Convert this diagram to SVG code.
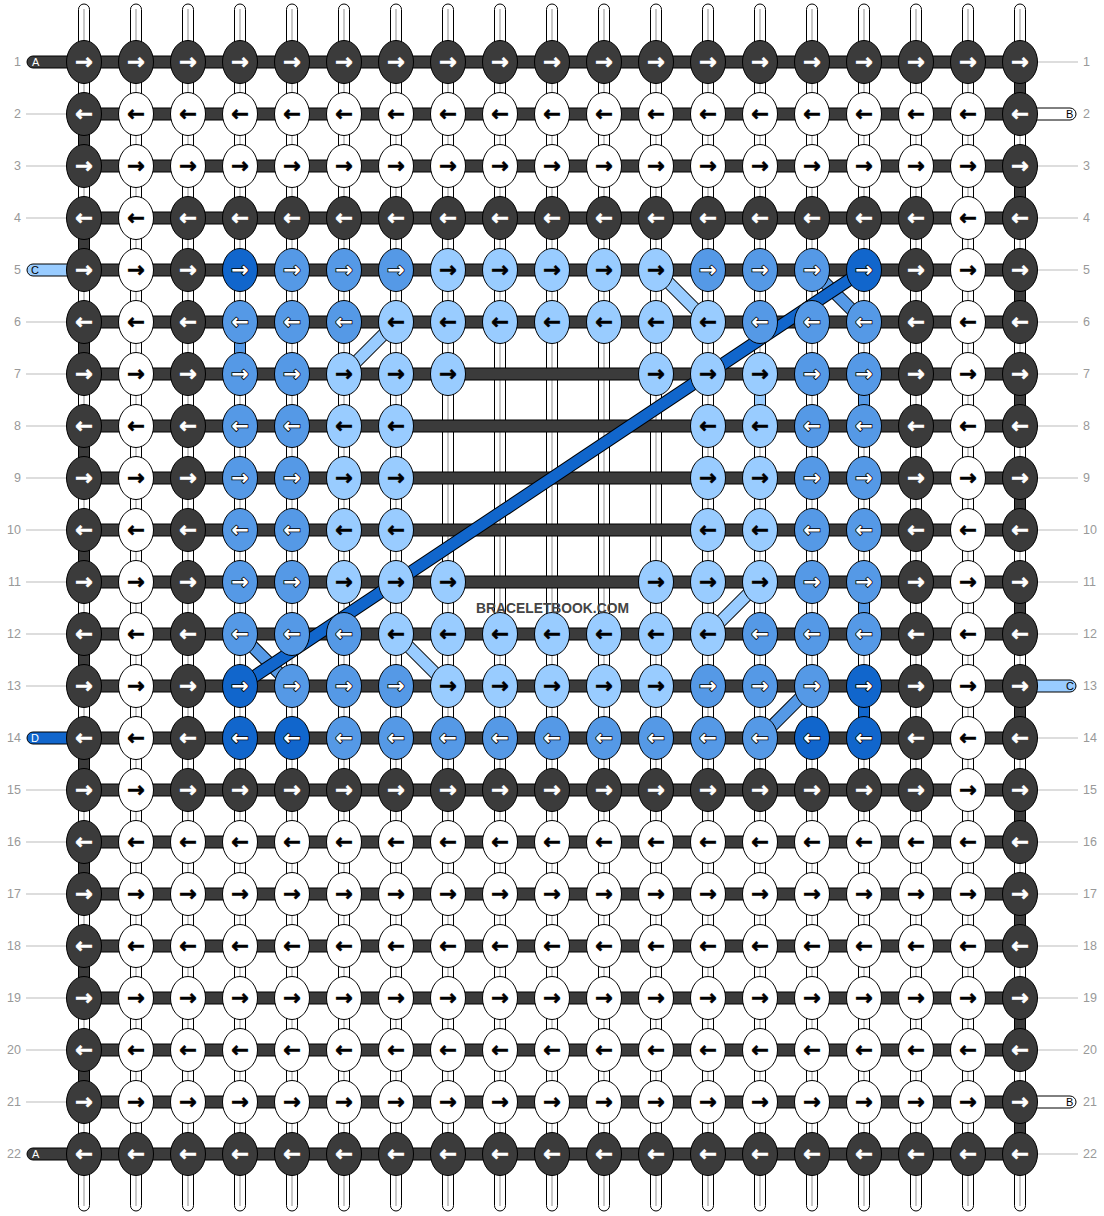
<svg xmlns="http://www.w3.org/2000/svg" width="1104" height="1216" viewBox="0 0 1104 1216">
<style>
.warp rect{fill:#fff;stroke:#000;stroke-width:1}
.warp line{stroke:#c8c8c8;stroke-width:2}
.bar{fill:#3b3b3b;stroke:#000;stroke-width:1}
.sD{fill:#3b3b3b;stroke:#000;stroke-width:1}
.sM{fill:#5599e6;stroke:#000;stroke-width:1}
.sL{fill:#99ccff;stroke:#000;stroke-width:1}
.sB{fill:#1166cc;stroke:#000;stroke-width:1}
.o{stroke:#000;stroke-width:13}
.dL{stroke:#99ccff;stroke-width:11}
.dM{stroke:#5599e6;stroke-width:11}
.dB{stroke:#1166cc;stroke-width:11}
ellipse{stroke:#000;stroke-width:1}
.knots text{font-family:"DejaVu Sans",sans-serif;font-weight:bold;font-size:21px;text-anchor:middle}
.D ellipse{fill:#3b3b3b}.D text{fill:#fff;stroke:#fff;stroke-width:0.7}
.W ellipse{fill:#fff}.W text{fill:#000;stroke:#000;stroke-width:0.7}
.L ellipse{fill:#99ccff}.L text{fill:#000;stroke:#000;stroke-width:0.7}
.M ellipse{fill:#5599e6}.M text{fill:#fff;stroke:#000;stroke-width:1.6;paint-order:stroke}
.B ellipse{fill:#1166cc}.B text{fill:#fff;stroke:#000;stroke-width:1.6;paint-order:stroke}
.num{font-family:"Liberation Sans",Arial,sans-serif;font-size:12.5px;fill:#999}
.nl{text-anchor:end}
.rl{stroke:#bbb;stroke-width:1}
.tail{stroke:#000;stroke-width:1}
.tl{font-family:"Liberation Sans",Arial,sans-serif;font-size:11px}
.wm{font-family:"Liberation Sans",Arial,sans-serif;font-weight:bold;font-size:14.5px;fill:#444;text-anchor:middle}
</style>
<g id="labels">
<g id="rowlines">
<line class="rl" x1="26" y1="114" x2="67" y2="114"/><line class="rl" x1="26" y1="166" x2="67" y2="166"/><line class="rl" x1="26" y1="218" x2="67" y2="218"/><line class="rl" x1="26" y1="322" x2="67" y2="322"/><line class="rl" x1="26" y1="374" x2="67" y2="374"/><line class="rl" x1="26" y1="426" x2="67" y2="426"/><line class="rl" x1="26" y1="478" x2="67" y2="478"/><line class="rl" x1="26" y1="530" x2="67" y2="530"/><line class="rl" x1="26" y1="582" x2="67" y2="582"/><line class="rl" x1="26" y1="634" x2="67" y2="634"/><line class="rl" x1="26" y1="686" x2="67" y2="686"/><line class="rl" x1="26" y1="790" x2="67" y2="790"/><line class="rl" x1="26" y1="842" x2="67" y2="842"/><line class="rl" x1="26" y1="894" x2="67" y2="894"/><line class="rl" x1="26" y1="946" x2="67" y2="946"/><line class="rl" x1="26" y1="998" x2="67" y2="998"/><line class="rl" x1="26" y1="1050" x2="67" y2="1050"/><line class="rl" x1="26" y1="1102" x2="67" y2="1102"/>
<line class="rl" x1="1037" y1="62" x2="1078" y2="62"/><line class="rl" x1="1037" y1="166" x2="1078" y2="166"/><line class="rl" x1="1037" y1="218" x2="1078" y2="218"/><line class="rl" x1="1037" y1="270" x2="1078" y2="270"/><line class="rl" x1="1037" y1="322" x2="1078" y2="322"/><line class="rl" x1="1037" y1="374" x2="1078" y2="374"/><line class="rl" x1="1037" y1="426" x2="1078" y2="426"/><line class="rl" x1="1037" y1="478" x2="1078" y2="478"/><line class="rl" x1="1037" y1="530" x2="1078" y2="530"/><line class="rl" x1="1037" y1="582" x2="1078" y2="582"/><line class="rl" x1="1037" y1="634" x2="1078" y2="634"/><line class="rl" x1="1037" y1="738" x2="1078" y2="738"/><line class="rl" x1="1037" y1="790" x2="1078" y2="790"/><line class="rl" x1="1037" y1="842" x2="1078" y2="842"/><line class="rl" x1="1037" y1="894" x2="1078" y2="894"/><line class="rl" x1="1037" y1="946" x2="1078" y2="946"/><line class="rl" x1="1037" y1="998" x2="1078" y2="998"/><line class="rl" x1="1037" y1="1050" x2="1078" y2="1050"/><line class="rl" x1="1037" y1="1154" x2="1078" y2="1154"/>
</g>
<g id="rownums" class="num">
<text class="nl" x="21" y="66">1</text><text class="nl" x="21" y="118">2</text><text class="nl" x="21" y="170">3</text><text class="nl" x="21" y="222">4</text><text class="nl" x="21" y="274">5</text><text class="nl" x="21" y="326">6</text><text class="nl" x="21" y="378">7</text><text class="nl" x="21" y="430">8</text><text class="nl" x="21" y="482">9</text><text class="nl" x="21" y="534">10</text><text class="nl" x="21" y="586">11</text><text class="nl" x="21" y="638">12</text><text class="nl" x="21" y="690">13</text><text class="nl" x="21" y="742">14</text><text class="nl" x="21" y="794">15</text><text class="nl" x="21" y="846">16</text><text class="nl" x="21" y="898">17</text><text class="nl" x="21" y="950">18</text><text class="nl" x="21" y="1002">19</text><text class="nl" x="21" y="1054">20</text><text class="nl" x="21" y="1106">21</text><text class="nl" x="21" y="1158">22</text>
<text x="1083" y="66">1</text><text x="1083" y="118">2</text><text x="1083" y="170">3</text><text x="1083" y="222">4</text><text x="1083" y="274">5</text><text x="1083" y="326">6</text><text x="1083" y="378">7</text><text x="1083" y="430">8</text><text x="1083" y="482">9</text><text x="1083" y="534">10</text><text x="1083" y="586">11</text><text x="1083" y="638">12</text><text x="1083" y="690">13</text><text x="1083" y="742">14</text><text x="1083" y="794">15</text><text x="1083" y="846">16</text><text x="1083" y="898">17</text><text x="1083" y="950">18</text><text x="1083" y="1002">19</text><text x="1083" y="1054">20</text><text x="1083" y="1106">21</text><text x="1083" y="1158">22</text>
</g>
</g>
<g id="connectors">
<g id="warps" class="warp">
<rect x="78.5" y="4" width="11" height="1207" rx="5.5"/><line x1="84" y1="9" x2="84" y2="1206"/>
<rect x="130.5" y="4" width="11" height="1207" rx="5.5"/><line x1="136" y1="9" x2="136" y2="1206"/>
<rect x="182.5" y="4" width="11" height="1207" rx="5.5"/><line x1="188" y1="9" x2="188" y2="1206"/>
<rect x="234.5" y="4" width="11" height="1207" rx="5.5"/><line x1="240" y1="9" x2="240" y2="1206"/>
<rect x="286.5" y="4" width="11" height="1207" rx="5.5"/><line x1="292" y1="9" x2="292" y2="1206"/>
<rect x="338.5" y="4" width="11" height="1207" rx="5.5"/><line x1="344" y1="9" x2="344" y2="1206"/>
<rect x="390.5" y="4" width="11" height="1207" rx="5.5"/><line x1="396" y1="9" x2="396" y2="1206"/>
<rect x="442.5" y="4" width="11" height="1207" rx="5.5"/><line x1="448" y1="9" x2="448" y2="1206"/>
<rect x="494.5" y="4" width="11" height="1207" rx="5.5"/><line x1="500" y1="9" x2="500" y2="1206"/>
<rect x="546.5" y="4" width="11" height="1207" rx="5.5"/><line x1="552" y1="9" x2="552" y2="1206"/>
<rect x="598.5" y="4" width="11" height="1207" rx="5.5"/><line x1="604" y1="9" x2="604" y2="1206"/>
<rect x="650.5" y="4" width="11" height="1207" rx="5.5"/><line x1="656" y1="9" x2="656" y2="1206"/>
<rect x="702.5" y="4" width="11" height="1207" rx="5.5"/><line x1="708" y1="9" x2="708" y2="1206"/>
<rect x="754.5" y="4" width="11" height="1207" rx="5.5"/><line x1="760" y1="9" x2="760" y2="1206"/>
<rect x="806.5" y="4" width="11" height="1207" rx="5.5"/><line x1="812" y1="9" x2="812" y2="1206"/>
<rect x="858.5" y="4" width="11" height="1207" rx="5.5"/><line x1="864" y1="9" x2="864" y2="1206"/>
<rect x="910.5" y="4" width="11" height="1207" rx="5.5"/><line x1="916" y1="9" x2="916" y2="1206"/>
<rect x="962.5" y="4" width="11" height="1207" rx="5.5"/><line x1="968" y1="9" x2="968" y2="1206"/>
<rect x="1014.5" y="4" width="11" height="1207" rx="5.5"/><line x1="1020" y1="9" x2="1020" y2="1206"/>
</g>
<g id="tails" class="tail">
<rect x="27" y="56" width="70" height="12" rx="6" fill="#3b3b3b"/>
<rect x="27" y="1148" width="70" height="12" rx="6" fill="#3b3b3b"/>
<rect x="27" y="264" width="70" height="12" rx="6" fill="#99ccff"/>
<rect x="27" y="732" width="70" height="12" rx="6" fill="#1166cc"/>
<rect x="1006" y="108" width="70" height="12" rx="6" fill="#fff"/>
<rect x="1006" y="1096" width="70" height="12" rx="6" fill="#fff"/>
<rect x="1006" y="680" width="70" height="12" rx="6" fill="#99ccff"/>
</g>
<g id="bars">
<rect class="bar" x="84" y="56" width="936" height="12"/><rect class="bar" x="84" y="108" width="936" height="12"/><rect class="bar" x="84" y="160" width="936" height="12"/><rect class="bar" x="84" y="212" width="936" height="12"/><rect class="bar" x="84" y="264" width="936" height="12"/><rect class="bar" x="84" y="316" width="936" height="12"/><rect class="bar" x="84" y="368" width="936" height="12"/><rect class="bar" x="84" y="420" width="936" height="12"/><rect class="bar" x="84" y="472" width="936" height="12"/><rect class="bar" x="84" y="524" width="936" height="12"/><rect class="bar" x="84" y="576" width="936" height="12"/><rect class="bar" x="84" y="628" width="936" height="12"/><rect class="bar" x="84" y="680" width="936" height="12"/><rect class="bar" x="84" y="732" width="936" height="12"/><rect class="bar" x="84" y="784" width="936" height="12"/><rect class="bar" x="84" y="836" width="936" height="12"/><rect class="bar" x="84" y="888" width="936" height="12"/><rect class="bar" x="84" y="940" width="936" height="12"/><rect class="bar" x="84" y="992" width="936" height="12"/><rect class="bar" x="84" y="1044" width="936" height="12"/><rect class="bar" x="84" y="1096" width="936" height="12"/><rect class="bar" x="84" y="1148" width="936" height="12"/>
</g>
<g id="segments">
<rect class="sD" x="78.5" y="114" width="11" height="52"/><rect class="sD" x="78.5" y="218" width="11" height="52"/><rect class="sD" x="78.5" y="322" width="11" height="52"/><rect class="sD" x="78.5" y="426" width="11" height="52"/><rect class="sD" x="78.5" y="530" width="11" height="52"/><rect class="sD" x="78.5" y="634" width="11" height="52"/><rect class="sD" x="78.5" y="738" width="11" height="52"/><rect class="sD" x="78.5" y="842" width="11" height="52"/><rect class="sD" x="78.5" y="946" width="11" height="52"/><rect class="sD" x="78.5" y="1050" width="11" height="52"/>
<rect class="sD" x="1014.5" y="62" width="11" height="52"/><rect class="sD" x="1014.5" y="166" width="11" height="52"/><rect class="sD" x="1014.5" y="270" width="11" height="52"/><rect class="sD" x="1014.5" y="374" width="11" height="52"/><rect class="sD" x="1014.5" y="478" width="11" height="52"/><rect class="sD" x="1014.5" y="582" width="11" height="52"/><rect class="sD" x="1014.5" y="686" width="11" height="52"/><rect class="sD" x="1014.5" y="790" width="11" height="52"/><rect class="sD" x="1014.5" y="894" width="11" height="52"/><rect class="sD" x="1014.5" y="998" width="11" height="52"/><rect class="sD" x="1014.5" y="1102" width="11" height="52"/>
<rect class="sM" x="234.5" y="322" width="11" height="52"/>
<rect class="sL" x="754.5" y="374" width="11" height="52"/>
<rect class="sM" x="858.5" y="374" width="11" height="52"/>
<rect class="sM" x="858.5" y="582" width="11" height="52"/>
<rect class="sB" x="858.5" y="686" width="11" height="52"/>
</g>
<g id="diagonals">
<line class="o" x1="344" y1="374" x2="396" y2="322"/><line class="dL" x1="344" y1="374" x2="396" y2="322"/>
<line class="o" x1="656" y1="270" x2="708" y2="322"/><line class="dL" x1="656" y1="270" x2="708" y2="322"/>
<line class="o" x1="812" y1="270" x2="864" y2="322"/><line class="dM" x1="812" y1="270" x2="864" y2="322"/>
<line class="o" x1="240" y1="634" x2="292" y2="686"/><line class="dM" x1="240" y1="634" x2="292" y2="686"/>
<line class="o" x1="396" y1="634" x2="448" y2="686"/><line class="dL" x1="396" y1="634" x2="448" y2="686"/>
<line class="o" x1="760" y1="582" x2="708" y2="634"/><line class="dL" x1="760" y1="582" x2="708" y2="634"/>
<line class="o" x1="812" y1="686" x2="760" y2="738"/><line class="dM" x1="812" y1="686" x2="760" y2="738"/>
<line class="o" x1="240" y1="686" x2="864" y2="270"/><line class="dB" x1="240" y1="686" x2="864" y2="270"/>
</g>
</g>
<g id="taillabels" class="tl">
<text x="32" y="66" fill="#fff">A</text>
<text x="32" y="1158" fill="#fff">A</text>
<text x="31" y="274" fill="#000">C</text>
<text x="31" y="742" fill="#fff">D</text>
<text x="1066" y="118" fill="#000">B</text>
<text x="1066" y="1106" fill="#000">B</text>
<text x="1066" y="690" fill="#000">C</text>
</g>
<g id="knots" class="knots">
<g id="r1" transform="translate(0,62)">
<g id="k1-1" class="D"><ellipse cx="84" rx="17.5" ry="21.5"/><text x="84" y="7">→</text></g>
<g id="k1-2" class="D"><ellipse cx="136" rx="17.5" ry="21.5"/><text x="136" y="7">→</text></g>
<g id="k1-3" class="D"><ellipse cx="188" rx="17.5" ry="21.5"/><text x="188" y="7">→</text></g>
<g id="k1-4" class="D"><ellipse cx="240" rx="17.5" ry="21.5"/><text x="240" y="7">→</text></g>
<g id="k1-5" class="D"><ellipse cx="292" rx="17.5" ry="21.5"/><text x="292" y="7">→</text></g>
<g id="k1-6" class="D"><ellipse cx="344" rx="17.5" ry="21.5"/><text x="344" y="7">→</text></g>
<g id="k1-7" class="D"><ellipse cx="396" rx="17.5" ry="21.5"/><text x="396" y="7">→</text></g>
<g id="k1-8" class="D"><ellipse cx="448" rx="17.5" ry="21.5"/><text x="448" y="7">→</text></g>
<g id="k1-9" class="D"><ellipse cx="500" rx="17.5" ry="21.5"/><text x="500" y="7">→</text></g>
<g id="k1-10" class="D"><ellipse cx="552" rx="17.5" ry="21.5"/><text x="552" y="7">→</text></g>
<g id="k1-11" class="D"><ellipse cx="604" rx="17.5" ry="21.5"/><text x="604" y="7">→</text></g>
<g id="k1-12" class="D"><ellipse cx="656" rx="17.5" ry="21.5"/><text x="656" y="7">→</text></g>
<g id="k1-13" class="D"><ellipse cx="708" rx="17.5" ry="21.5"/><text x="708" y="7">→</text></g>
<g id="k1-14" class="D"><ellipse cx="760" rx="17.5" ry="21.5"/><text x="760" y="7">→</text></g>
<g id="k1-15" class="D"><ellipse cx="812" rx="17.5" ry="21.5"/><text x="812" y="7">→</text></g>
<g id="k1-16" class="D"><ellipse cx="864" rx="17.5" ry="21.5"/><text x="864" y="7">→</text></g>
<g id="k1-17" class="D"><ellipse cx="916" rx="17.5" ry="21.5"/><text x="916" y="7">→</text></g>
<g id="k1-18" class="D"><ellipse cx="968" rx="17.5" ry="21.5"/><text x="968" y="7">→</text></g>
<g id="k1-19" class="D"><ellipse cx="1020" rx="17.5" ry="21.5"/><text x="1020" y="7">→</text></g>
</g>
<g id="r2" transform="translate(0,114)">
<g id="k2-1" class="D"><ellipse cx="84" rx="17.5" ry="21.5"/><text x="84" y="7">←</text></g>
<g id="k2-2" class="W"><ellipse cx="136" rx="17.5" ry="21.5"/><text x="136" y="7">←</text></g>
<g id="k2-3" class="W"><ellipse cx="188" rx="17.5" ry="21.5"/><text x="188" y="7">←</text></g>
<g id="k2-4" class="W"><ellipse cx="240" rx="17.5" ry="21.5"/><text x="240" y="7">←</text></g>
<g id="k2-5" class="W"><ellipse cx="292" rx="17.5" ry="21.5"/><text x="292" y="7">←</text></g>
<g id="k2-6" class="W"><ellipse cx="344" rx="17.5" ry="21.5"/><text x="344" y="7">←</text></g>
<g id="k2-7" class="W"><ellipse cx="396" rx="17.5" ry="21.5"/><text x="396" y="7">←</text></g>
<g id="k2-8" class="W"><ellipse cx="448" rx="17.5" ry="21.5"/><text x="448" y="7">←</text></g>
<g id="k2-9" class="W"><ellipse cx="500" rx="17.5" ry="21.5"/><text x="500" y="7">←</text></g>
<g id="k2-10" class="W"><ellipse cx="552" rx="17.5" ry="21.5"/><text x="552" y="7">←</text></g>
<g id="k2-11" class="W"><ellipse cx="604" rx="17.5" ry="21.5"/><text x="604" y="7">←</text></g>
<g id="k2-12" class="W"><ellipse cx="656" rx="17.5" ry="21.5"/><text x="656" y="7">←</text></g>
<g id="k2-13" class="W"><ellipse cx="708" rx="17.5" ry="21.5"/><text x="708" y="7">←</text></g>
<g id="k2-14" class="W"><ellipse cx="760" rx="17.5" ry="21.5"/><text x="760" y="7">←</text></g>
<g id="k2-15" class="W"><ellipse cx="812" rx="17.5" ry="21.5"/><text x="812" y="7">←</text></g>
<g id="k2-16" class="W"><ellipse cx="864" rx="17.5" ry="21.5"/><text x="864" y="7">←</text></g>
<g id="k2-17" class="W"><ellipse cx="916" rx="17.5" ry="21.5"/><text x="916" y="7">←</text></g>
<g id="k2-18" class="W"><ellipse cx="968" rx="17.5" ry="21.5"/><text x="968" y="7">←</text></g>
<g id="k2-19" class="D"><ellipse cx="1020" rx="17.5" ry="21.5"/><text x="1020" y="7">←</text></g>
</g>
<g id="r3" transform="translate(0,166)">
<g id="k3-1" class="D"><ellipse cx="84" rx="17.5" ry="21.5"/><text x="84" y="7">→</text></g>
<g id="k3-2" class="W"><ellipse cx="136" rx="17.5" ry="21.5"/><text x="136" y="7">→</text></g>
<g id="k3-3" class="W"><ellipse cx="188" rx="17.5" ry="21.5"/><text x="188" y="7">→</text></g>
<g id="k3-4" class="W"><ellipse cx="240" rx="17.5" ry="21.5"/><text x="240" y="7">→</text></g>
<g id="k3-5" class="W"><ellipse cx="292" rx="17.5" ry="21.5"/><text x="292" y="7">→</text></g>
<g id="k3-6" class="W"><ellipse cx="344" rx="17.5" ry="21.5"/><text x="344" y="7">→</text></g>
<g id="k3-7" class="W"><ellipse cx="396" rx="17.5" ry="21.5"/><text x="396" y="7">→</text></g>
<g id="k3-8" class="W"><ellipse cx="448" rx="17.5" ry="21.5"/><text x="448" y="7">→</text></g>
<g id="k3-9" class="W"><ellipse cx="500" rx="17.5" ry="21.5"/><text x="500" y="7">→</text></g>
<g id="k3-10" class="W"><ellipse cx="552" rx="17.5" ry="21.5"/><text x="552" y="7">→</text></g>
<g id="k3-11" class="W"><ellipse cx="604" rx="17.5" ry="21.5"/><text x="604" y="7">→</text></g>
<g id="k3-12" class="W"><ellipse cx="656" rx="17.5" ry="21.5"/><text x="656" y="7">→</text></g>
<g id="k3-13" class="W"><ellipse cx="708" rx="17.5" ry="21.5"/><text x="708" y="7">→</text></g>
<g id="k3-14" class="W"><ellipse cx="760" rx="17.5" ry="21.5"/><text x="760" y="7">→</text></g>
<g id="k3-15" class="W"><ellipse cx="812" rx="17.5" ry="21.5"/><text x="812" y="7">→</text></g>
<g id="k3-16" class="W"><ellipse cx="864" rx="17.5" ry="21.5"/><text x="864" y="7">→</text></g>
<g id="k3-17" class="W"><ellipse cx="916" rx="17.5" ry="21.5"/><text x="916" y="7">→</text></g>
<g id="k3-18" class="W"><ellipse cx="968" rx="17.5" ry="21.5"/><text x="968" y="7">→</text></g>
<g id="k3-19" class="D"><ellipse cx="1020" rx="17.5" ry="21.5"/><text x="1020" y="7">→</text></g>
</g>
<g id="r4" transform="translate(0,218)">
<g id="k4-1" class="D"><ellipse cx="84" rx="17.5" ry="21.5"/><text x="84" y="7">←</text></g>
<g id="k4-2" class="W"><ellipse cx="136" rx="17.5" ry="21.5"/><text x="136" y="7">←</text></g>
<g id="k4-3" class="D"><ellipse cx="188" rx="17.5" ry="21.5"/><text x="188" y="7">←</text></g>
<g id="k4-4" class="D"><ellipse cx="240" rx="17.5" ry="21.5"/><text x="240" y="7">←</text></g>
<g id="k4-5" class="D"><ellipse cx="292" rx="17.5" ry="21.5"/><text x="292" y="7">←</text></g>
<g id="k4-6" class="D"><ellipse cx="344" rx="17.5" ry="21.5"/><text x="344" y="7">←</text></g>
<g id="k4-7" class="D"><ellipse cx="396" rx="17.5" ry="21.5"/><text x="396" y="7">←</text></g>
<g id="k4-8" class="D"><ellipse cx="448" rx="17.5" ry="21.5"/><text x="448" y="7">←</text></g>
<g id="k4-9" class="D"><ellipse cx="500" rx="17.5" ry="21.5"/><text x="500" y="7">←</text></g>
<g id="k4-10" class="D"><ellipse cx="552" rx="17.5" ry="21.5"/><text x="552" y="7">←</text></g>
<g id="k4-11" class="D"><ellipse cx="604" rx="17.5" ry="21.5"/><text x="604" y="7">←</text></g>
<g id="k4-12" class="D"><ellipse cx="656" rx="17.5" ry="21.5"/><text x="656" y="7">←</text></g>
<g id="k4-13" class="D"><ellipse cx="708" rx="17.5" ry="21.5"/><text x="708" y="7">←</text></g>
<g id="k4-14" class="D"><ellipse cx="760" rx="17.5" ry="21.5"/><text x="760" y="7">←</text></g>
<g id="k4-15" class="D"><ellipse cx="812" rx="17.5" ry="21.5"/><text x="812" y="7">←</text></g>
<g id="k4-16" class="D"><ellipse cx="864" rx="17.5" ry="21.5"/><text x="864" y="7">←</text></g>
<g id="k4-17" class="D"><ellipse cx="916" rx="17.5" ry="21.5"/><text x="916" y="7">←</text></g>
<g id="k4-18" class="W"><ellipse cx="968" rx="17.5" ry="21.5"/><text x="968" y="7">←</text></g>
<g id="k4-19" class="D"><ellipse cx="1020" rx="17.5" ry="21.5"/><text x="1020" y="7">←</text></g>
</g>
<g id="r5" transform="translate(0,270)">
<g id="k5-1" class="D"><ellipse cx="84" rx="17.5" ry="21.5"/><text x="84" y="7">→</text></g>
<g id="k5-2" class="W"><ellipse cx="136" rx="17.5" ry="21.5"/><text x="136" y="7">→</text></g>
<g id="k5-3" class="D"><ellipse cx="188" rx="17.5" ry="21.5"/><text x="188" y="7">→</text></g>
<g id="k5-4" class="B"><ellipse cx="240" rx="17.5" ry="21.5"/><text x="240" y="7">→</text></g>
<g id="k5-5" class="M"><ellipse cx="292" rx="17.5" ry="21.5"/><text x="292" y="7">→</text></g>
<g id="k5-6" class="M"><ellipse cx="344" rx="17.5" ry="21.5"/><text x="344" y="7">→</text></g>
<g id="k5-7" class="M"><ellipse cx="396" rx="17.5" ry="21.5"/><text x="396" y="7">→</text></g>
<g id="k5-8" class="L"><ellipse cx="448" rx="17.5" ry="21.5"/><text x="448" y="7">→</text></g>
<g id="k5-9" class="L"><ellipse cx="500" rx="17.5" ry="21.5"/><text x="500" y="7">→</text></g>
<g id="k5-10" class="L"><ellipse cx="552" rx="17.5" ry="21.5"/><text x="552" y="7">→</text></g>
<g id="k5-11" class="L"><ellipse cx="604" rx="17.5" ry="21.5"/><text x="604" y="7">→</text></g>
<g id="k5-12" class="L"><ellipse cx="656" rx="17.5" ry="21.5"/><text x="656" y="7">→</text></g>
<g id="k5-13" class="M"><ellipse cx="708" rx="17.5" ry="21.5"/><text x="708" y="7">→</text></g>
<g id="k5-14" class="M"><ellipse cx="760" rx="17.5" ry="21.5"/><text x="760" y="7">→</text></g>
<g id="k5-15" class="M"><ellipse cx="812" rx="17.5" ry="21.5"/><text x="812" y="7">→</text></g>
<g id="k5-16" class="B"><ellipse cx="864" rx="17.5" ry="21.5"/><text x="864" y="7">→</text></g>
<g id="k5-17" class="D"><ellipse cx="916" rx="17.5" ry="21.5"/><text x="916" y="7">→</text></g>
<g id="k5-18" class="W"><ellipse cx="968" rx="17.5" ry="21.5"/><text x="968" y="7">→</text></g>
<g id="k5-19" class="D"><ellipse cx="1020" rx="17.5" ry="21.5"/><text x="1020" y="7">→</text></g>
</g>
<g id="r6" transform="translate(0,322)">
<g id="k6-1" class="D"><ellipse cx="84" rx="17.5" ry="21.5"/><text x="84" y="7">←</text></g>
<g id="k6-2" class="W"><ellipse cx="136" rx="17.5" ry="21.5"/><text x="136" y="7">←</text></g>
<g id="k6-3" class="D"><ellipse cx="188" rx="17.5" ry="21.5"/><text x="188" y="7">←</text></g>
<g id="k6-4" class="M"><ellipse cx="240" rx="17.5" ry="21.5"/><text x="240" y="7">←</text></g>
<g id="k6-5" class="M"><ellipse cx="292" rx="17.5" ry="21.5"/><text x="292" y="7">←</text></g>
<g id="k6-6" class="M"><ellipse cx="344" rx="17.5" ry="21.5"/><text x="344" y="7">←</text></g>
<g id="k6-7" class="L"><ellipse cx="396" rx="17.5" ry="21.5"/><text x="396" y="7">←</text></g>
<g id="k6-8" class="L"><ellipse cx="448" rx="17.5" ry="21.5"/><text x="448" y="7">←</text></g>
<g id="k6-9" class="L"><ellipse cx="500" rx="17.5" ry="21.5"/><text x="500" y="7">←</text></g>
<g id="k6-10" class="L"><ellipse cx="552" rx="17.5" ry="21.5"/><text x="552" y="7">←</text></g>
<g id="k6-11" class="L"><ellipse cx="604" rx="17.5" ry="21.5"/><text x="604" y="7">←</text></g>
<g id="k6-12" class="L"><ellipse cx="656" rx="17.5" ry="21.5"/><text x="656" y="7">←</text></g>
<g id="k6-13" class="L"><ellipse cx="708" rx="17.5" ry="21.5"/><text x="708" y="7">←</text></g>
<g id="k6-14" class="M"><ellipse cx="760" rx="17.5" ry="21.5"/><text x="760" y="7">←</text></g>
<g id="k6-15" class="M"><ellipse cx="812" rx="17.5" ry="21.5"/><text x="812" y="7">←</text></g>
<g id="k6-16" class="M"><ellipse cx="864" rx="17.5" ry="21.5"/><text x="864" y="7">←</text></g>
<g id="k6-17" class="D"><ellipse cx="916" rx="17.5" ry="21.5"/><text x="916" y="7">←</text></g>
<g id="k6-18" class="W"><ellipse cx="968" rx="17.5" ry="21.5"/><text x="968" y="7">←</text></g>
<g id="k6-19" class="D"><ellipse cx="1020" rx="17.5" ry="21.5"/><text x="1020" y="7">←</text></g>
</g>
<g id="r7" transform="translate(0,374)">
<g id="k7-1" class="D"><ellipse cx="84" rx="17.5" ry="21.5"/><text x="84" y="7">→</text></g>
<g id="k7-2" class="W"><ellipse cx="136" rx="17.5" ry="21.5"/><text x="136" y="7">→</text></g>
<g id="k7-3" class="D"><ellipse cx="188" rx="17.5" ry="21.5"/><text x="188" y="7">→</text></g>
<g id="k7-4" class="M"><ellipse cx="240" rx="17.5" ry="21.5"/><text x="240" y="7">→</text></g>
<g id="k7-5" class="M"><ellipse cx="292" rx="17.5" ry="21.5"/><text x="292" y="7">→</text></g>
<g id="k7-6" class="L"><ellipse cx="344" rx="17.5" ry="21.5"/><text x="344" y="7">→</text></g>
<g id="k7-7" class="L"><ellipse cx="396" rx="17.5" ry="21.5"/><text x="396" y="7">→</text></g>
<g id="k7-8" class="L"><ellipse cx="448" rx="17.5" ry="21.5"/><text x="448" y="7">→</text></g>
<g id="k7-12" class="L"><ellipse cx="656" rx="17.5" ry="21.5"/><text x="656" y="7">→</text></g>
<g id="k7-13" class="L"><ellipse cx="708" rx="17.5" ry="21.5"/><text x="708" y="7">→</text></g>
<g id="k7-14" class="L"><ellipse cx="760" rx="17.5" ry="21.5"/><text x="760" y="7">→</text></g>
<g id="k7-15" class="M"><ellipse cx="812" rx="17.5" ry="21.5"/><text x="812" y="7">→</text></g>
<g id="k7-16" class="M"><ellipse cx="864" rx="17.5" ry="21.5"/><text x="864" y="7">→</text></g>
<g id="k7-17" class="D"><ellipse cx="916" rx="17.5" ry="21.5"/><text x="916" y="7">→</text></g>
<g id="k7-18" class="W"><ellipse cx="968" rx="17.5" ry="21.5"/><text x="968" y="7">→</text></g>
<g id="k7-19" class="D"><ellipse cx="1020" rx="17.5" ry="21.5"/><text x="1020" y="7">→</text></g>
</g>
<g id="r8" transform="translate(0,426)">
<g id="k8-1" class="D"><ellipse cx="84" rx="17.5" ry="21.5"/><text x="84" y="7">←</text></g>
<g id="k8-2" class="W"><ellipse cx="136" rx="17.5" ry="21.5"/><text x="136" y="7">←</text></g>
<g id="k8-3" class="D"><ellipse cx="188" rx="17.5" ry="21.5"/><text x="188" y="7">←</text></g>
<g id="k8-4" class="M"><ellipse cx="240" rx="17.5" ry="21.5"/><text x="240" y="7">←</text></g>
<g id="k8-5" class="M"><ellipse cx="292" rx="17.5" ry="21.5"/><text x="292" y="7">←</text></g>
<g id="k8-6" class="L"><ellipse cx="344" rx="17.5" ry="21.5"/><text x="344" y="7">←</text></g>
<g id="k8-7" class="L"><ellipse cx="396" rx="17.5" ry="21.5"/><text x="396" y="7">←</text></g>
<g id="k8-13" class="L"><ellipse cx="708" rx="17.5" ry="21.5"/><text x="708" y="7">←</text></g>
<g id="k8-14" class="L"><ellipse cx="760" rx="17.5" ry="21.5"/><text x="760" y="7">←</text></g>
<g id="k8-15" class="M"><ellipse cx="812" rx="17.5" ry="21.5"/><text x="812" y="7">←</text></g>
<g id="k8-16" class="M"><ellipse cx="864" rx="17.5" ry="21.5"/><text x="864" y="7">←</text></g>
<g id="k8-17" class="D"><ellipse cx="916" rx="17.5" ry="21.5"/><text x="916" y="7">←</text></g>
<g id="k8-18" class="W"><ellipse cx="968" rx="17.5" ry="21.5"/><text x="968" y="7">←</text></g>
<g id="k8-19" class="D"><ellipse cx="1020" rx="17.5" ry="21.5"/><text x="1020" y="7">←</text></g>
</g>
<g id="r9" transform="translate(0,478)">
<g id="k9-1" class="D"><ellipse cx="84" rx="17.5" ry="21.5"/><text x="84" y="7">→</text></g>
<g id="k9-2" class="W"><ellipse cx="136" rx="17.5" ry="21.5"/><text x="136" y="7">→</text></g>
<g id="k9-3" class="D"><ellipse cx="188" rx="17.5" ry="21.5"/><text x="188" y="7">→</text></g>
<g id="k9-4" class="M"><ellipse cx="240" rx="17.5" ry="21.5"/><text x="240" y="7">→</text></g>
<g id="k9-5" class="M"><ellipse cx="292" rx="17.5" ry="21.5"/><text x="292" y="7">→</text></g>
<g id="k9-6" class="L"><ellipse cx="344" rx="17.5" ry="21.5"/><text x="344" y="7">→</text></g>
<g id="k9-7" class="L"><ellipse cx="396" rx="17.5" ry="21.5"/><text x="396" y="7">→</text></g>
<g id="k9-13" class="L"><ellipse cx="708" rx="17.5" ry="21.5"/><text x="708" y="7">→</text></g>
<g id="k9-14" class="L"><ellipse cx="760" rx="17.5" ry="21.5"/><text x="760" y="7">→</text></g>
<g id="k9-15" class="M"><ellipse cx="812" rx="17.5" ry="21.5"/><text x="812" y="7">→</text></g>
<g id="k9-16" class="M"><ellipse cx="864" rx="17.5" ry="21.5"/><text x="864" y="7">→</text></g>
<g id="k9-17" class="D"><ellipse cx="916" rx="17.5" ry="21.5"/><text x="916" y="7">→</text></g>
<g id="k9-18" class="W"><ellipse cx="968" rx="17.5" ry="21.5"/><text x="968" y="7">→</text></g>
<g id="k9-19" class="D"><ellipse cx="1020" rx="17.5" ry="21.5"/><text x="1020" y="7">→</text></g>
</g>
<g id="r10" transform="translate(0,530)">
<g id="k10-1" class="D"><ellipse cx="84" rx="17.5" ry="21.5"/><text x="84" y="7">←</text></g>
<g id="k10-2" class="W"><ellipse cx="136" rx="17.5" ry="21.5"/><text x="136" y="7">←</text></g>
<g id="k10-3" class="D"><ellipse cx="188" rx="17.5" ry="21.5"/><text x="188" y="7">←</text></g>
<g id="k10-4" class="M"><ellipse cx="240" rx="17.5" ry="21.5"/><text x="240" y="7">←</text></g>
<g id="k10-5" class="M"><ellipse cx="292" rx="17.5" ry="21.5"/><text x="292" y="7">←</text></g>
<g id="k10-6" class="L"><ellipse cx="344" rx="17.5" ry="21.5"/><text x="344" y="7">←</text></g>
<g id="k10-7" class="L"><ellipse cx="396" rx="17.5" ry="21.5"/><text x="396" y="7">←</text></g>
<g id="k10-13" class="L"><ellipse cx="708" rx="17.5" ry="21.5"/><text x="708" y="7">←</text></g>
<g id="k10-14" class="L"><ellipse cx="760" rx="17.5" ry="21.5"/><text x="760" y="7">←</text></g>
<g id="k10-15" class="M"><ellipse cx="812" rx="17.5" ry="21.5"/><text x="812" y="7">←</text></g>
<g id="k10-16" class="M"><ellipse cx="864" rx="17.5" ry="21.5"/><text x="864" y="7">←</text></g>
<g id="k10-17" class="D"><ellipse cx="916" rx="17.5" ry="21.5"/><text x="916" y="7">←</text></g>
<g id="k10-18" class="W"><ellipse cx="968" rx="17.5" ry="21.5"/><text x="968" y="7">←</text></g>
<g id="k10-19" class="D"><ellipse cx="1020" rx="17.5" ry="21.5"/><text x="1020" y="7">←</text></g>
</g>
<g id="r11" transform="translate(0,582)">
<g id="k11-1" class="D"><ellipse cx="84" rx="17.5" ry="21.5"/><text x="84" y="7">→</text></g>
<g id="k11-2" class="W"><ellipse cx="136" rx="17.5" ry="21.5"/><text x="136" y="7">→</text></g>
<g id="k11-3" class="D"><ellipse cx="188" rx="17.5" ry="21.5"/><text x="188" y="7">→</text></g>
<g id="k11-4" class="M"><ellipse cx="240" rx="17.5" ry="21.5"/><text x="240" y="7">→</text></g>
<g id="k11-5" class="M"><ellipse cx="292" rx="17.5" ry="21.5"/><text x="292" y="7">→</text></g>
<g id="k11-6" class="L"><ellipse cx="344" rx="17.5" ry="21.5"/><text x="344" y="7">→</text></g>
<g id="k11-7" class="L"><ellipse cx="396" rx="17.5" ry="21.5"/><text x="396" y="7">→</text></g>
<g id="k11-8" class="L"><ellipse cx="448" rx="17.5" ry="21.5"/><text x="448" y="7">→</text></g>
<g id="k11-12" class="L"><ellipse cx="656" rx="17.5" ry="21.5"/><text x="656" y="7">→</text></g>
<g id="k11-13" class="L"><ellipse cx="708" rx="17.5" ry="21.5"/><text x="708" y="7">→</text></g>
<g id="k11-14" class="L"><ellipse cx="760" rx="17.5" ry="21.5"/><text x="760" y="7">→</text></g>
<g id="k11-15" class="M"><ellipse cx="812" rx="17.5" ry="21.5"/><text x="812" y="7">→</text></g>
<g id="k11-16" class="M"><ellipse cx="864" rx="17.5" ry="21.5"/><text x="864" y="7">→</text></g>
<g id="k11-17" class="D"><ellipse cx="916" rx="17.5" ry="21.5"/><text x="916" y="7">→</text></g>
<g id="k11-18" class="W"><ellipse cx="968" rx="17.5" ry="21.5"/><text x="968" y="7">→</text></g>
<g id="k11-19" class="D"><ellipse cx="1020" rx="17.5" ry="21.5"/><text x="1020" y="7">→</text></g>
</g>
<g id="r12" transform="translate(0,634)">
<g id="k12-1" class="D"><ellipse cx="84" rx="17.5" ry="21.5"/><text x="84" y="7">←</text></g>
<g id="k12-2" class="W"><ellipse cx="136" rx="17.5" ry="21.5"/><text x="136" y="7">←</text></g>
<g id="k12-3" class="D"><ellipse cx="188" rx="17.5" ry="21.5"/><text x="188" y="7">←</text></g>
<g id="k12-4" class="M"><ellipse cx="240" rx="17.5" ry="21.5"/><text x="240" y="7">←</text></g>
<g id="k12-5" class="M"><ellipse cx="292" rx="17.5" ry="21.5"/><text x="292" y="7">←</text></g>
<g id="k12-6" class="M"><ellipse cx="344" rx="17.5" ry="21.5"/><text x="344" y="7">←</text></g>
<g id="k12-7" class="L"><ellipse cx="396" rx="17.5" ry="21.5"/><text x="396" y="7">←</text></g>
<g id="k12-8" class="L"><ellipse cx="448" rx="17.5" ry="21.5"/><text x="448" y="7">←</text></g>
<g id="k12-9" class="L"><ellipse cx="500" rx="17.5" ry="21.5"/><text x="500" y="7">←</text></g>
<g id="k12-10" class="L"><ellipse cx="552" rx="17.5" ry="21.5"/><text x="552" y="7">←</text></g>
<g id="k12-11" class="L"><ellipse cx="604" rx="17.5" ry="21.5"/><text x="604" y="7">←</text></g>
<g id="k12-12" class="L"><ellipse cx="656" rx="17.5" ry="21.5"/><text x="656" y="7">←</text></g>
<g id="k12-13" class="L"><ellipse cx="708" rx="17.5" ry="21.5"/><text x="708" y="7">←</text></g>
<g id="k12-14" class="M"><ellipse cx="760" rx="17.5" ry="21.5"/><text x="760" y="7">←</text></g>
<g id="k12-15" class="M"><ellipse cx="812" rx="17.5" ry="21.5"/><text x="812" y="7">←</text></g>
<g id="k12-16" class="M"><ellipse cx="864" rx="17.5" ry="21.5"/><text x="864" y="7">←</text></g>
<g id="k12-17" class="D"><ellipse cx="916" rx="17.5" ry="21.5"/><text x="916" y="7">←</text></g>
<g id="k12-18" class="W"><ellipse cx="968" rx="17.5" ry="21.5"/><text x="968" y="7">←</text></g>
<g id="k12-19" class="D"><ellipse cx="1020" rx="17.5" ry="21.5"/><text x="1020" y="7">←</text></g>
</g>
<g id="r13" transform="translate(0,686)">
<g id="k13-1" class="D"><ellipse cx="84" rx="17.5" ry="21.5"/><text x="84" y="7">→</text></g>
<g id="k13-2" class="W"><ellipse cx="136" rx="17.5" ry="21.5"/><text x="136" y="7">→</text></g>
<g id="k13-3" class="D"><ellipse cx="188" rx="17.5" ry="21.5"/><text x="188" y="7">→</text></g>
<g id="k13-4" class="B"><ellipse cx="240" rx="17.5" ry="21.5"/><text x="240" y="7">→</text></g>
<g id="k13-5" class="M"><ellipse cx="292" rx="17.5" ry="21.5"/><text x="292" y="7">→</text></g>
<g id="k13-6" class="M"><ellipse cx="344" rx="17.5" ry="21.5"/><text x="344" y="7">→</text></g>
<g id="k13-7" class="M"><ellipse cx="396" rx="17.5" ry="21.5"/><text x="396" y="7">→</text></g>
<g id="k13-8" class="L"><ellipse cx="448" rx="17.5" ry="21.5"/><text x="448" y="7">→</text></g>
<g id="k13-9" class="L"><ellipse cx="500" rx="17.5" ry="21.5"/><text x="500" y="7">→</text></g>
<g id="k13-10" class="L"><ellipse cx="552" rx="17.5" ry="21.5"/><text x="552" y="7">→</text></g>
<g id="k13-11" class="L"><ellipse cx="604" rx="17.5" ry="21.5"/><text x="604" y="7">→</text></g>
<g id="k13-12" class="L"><ellipse cx="656" rx="17.5" ry="21.5"/><text x="656" y="7">→</text></g>
<g id="k13-13" class="M"><ellipse cx="708" rx="17.5" ry="21.5"/><text x="708" y="7">→</text></g>
<g id="k13-14" class="M"><ellipse cx="760" rx="17.5" ry="21.5"/><text x="760" y="7">→</text></g>
<g id="k13-15" class="M"><ellipse cx="812" rx="17.5" ry="21.5"/><text x="812" y="7">→</text></g>
<g id="k13-16" class="B"><ellipse cx="864" rx="17.5" ry="21.5"/><text x="864" y="7">→</text></g>
<g id="k13-17" class="D"><ellipse cx="916" rx="17.5" ry="21.5"/><text x="916" y="7">→</text></g>
<g id="k13-18" class="W"><ellipse cx="968" rx="17.5" ry="21.5"/><text x="968" y="7">→</text></g>
<g id="k13-19" class="D"><ellipse cx="1020" rx="17.5" ry="21.5"/><text x="1020" y="7">→</text></g>
</g>
<g id="r14" transform="translate(0,738)">
<g id="k14-1" class="D"><ellipse cx="84" rx="17.5" ry="21.5"/><text x="84" y="7">←</text></g>
<g id="k14-2" class="W"><ellipse cx="136" rx="17.5" ry="21.5"/><text x="136" y="7">←</text></g>
<g id="k14-3" class="D"><ellipse cx="188" rx="17.5" ry="21.5"/><text x="188" y="7">←</text></g>
<g id="k14-4" class="B"><ellipse cx="240" rx="17.5" ry="21.5"/><text x="240" y="7">←</text></g>
<g id="k14-5" class="B"><ellipse cx="292" rx="17.5" ry="21.5"/><text x="292" y="7">←</text></g>
<g id="k14-6" class="M"><ellipse cx="344" rx="17.5" ry="21.5"/><text x="344" y="7">←</text></g>
<g id="k14-7" class="M"><ellipse cx="396" rx="17.5" ry="21.5"/><text x="396" y="7">←</text></g>
<g id="k14-8" class="M"><ellipse cx="448" rx="17.5" ry="21.5"/><text x="448" y="7">←</text></g>
<g id="k14-9" class="M"><ellipse cx="500" rx="17.5" ry="21.5"/><text x="500" y="7">←</text></g>
<g id="k14-10" class="M"><ellipse cx="552" rx="17.5" ry="21.5"/><text x="552" y="7">←</text></g>
<g id="k14-11" class="M"><ellipse cx="604" rx="17.5" ry="21.5"/><text x="604" y="7">←</text></g>
<g id="k14-12" class="M"><ellipse cx="656" rx="17.5" ry="21.5"/><text x="656" y="7">←</text></g>
<g id="k14-13" class="M"><ellipse cx="708" rx="17.5" ry="21.5"/><text x="708" y="7">←</text></g>
<g id="k14-14" class="M"><ellipse cx="760" rx="17.5" ry="21.5"/><text x="760" y="7">←</text></g>
<g id="k14-15" class="B"><ellipse cx="812" rx="17.5" ry="21.5"/><text x="812" y="7">←</text></g>
<g id="k14-16" class="B"><ellipse cx="864" rx="17.5" ry="21.5"/><text x="864" y="7">←</text></g>
<g id="k14-17" class="D"><ellipse cx="916" rx="17.5" ry="21.5"/><text x="916" y="7">←</text></g>
<g id="k14-18" class="W"><ellipse cx="968" rx="17.5" ry="21.5"/><text x="968" y="7">←</text></g>
<g id="k14-19" class="D"><ellipse cx="1020" rx="17.5" ry="21.5"/><text x="1020" y="7">←</text></g>
</g>
<g id="r15" transform="translate(0,790)">
<g id="k15-1" class="D"><ellipse cx="84" rx="17.5" ry="21.5"/><text x="84" y="7">→</text></g>
<g id="k15-2" class="W"><ellipse cx="136" rx="17.5" ry="21.5"/><text x="136" y="7">→</text></g>
<g id="k15-3" class="D"><ellipse cx="188" rx="17.5" ry="21.5"/><text x="188" y="7">→</text></g>
<g id="k15-4" class="D"><ellipse cx="240" rx="17.5" ry="21.5"/><text x="240" y="7">→</text></g>
<g id="k15-5" class="D"><ellipse cx="292" rx="17.5" ry="21.5"/><text x="292" y="7">→</text></g>
<g id="k15-6" class="D"><ellipse cx="344" rx="17.5" ry="21.5"/><text x="344" y="7">→</text></g>
<g id="k15-7" class="D"><ellipse cx="396" rx="17.5" ry="21.5"/><text x="396" y="7">→</text></g>
<g id="k15-8" class="D"><ellipse cx="448" rx="17.5" ry="21.5"/><text x="448" y="7">→</text></g>
<g id="k15-9" class="D"><ellipse cx="500" rx="17.5" ry="21.5"/><text x="500" y="7">→</text></g>
<g id="k15-10" class="D"><ellipse cx="552" rx="17.5" ry="21.5"/><text x="552" y="7">→</text></g>
<g id="k15-11" class="D"><ellipse cx="604" rx="17.5" ry="21.5"/><text x="604" y="7">→</text></g>
<g id="k15-12" class="D"><ellipse cx="656" rx="17.5" ry="21.5"/><text x="656" y="7">→</text></g>
<g id="k15-13" class="D"><ellipse cx="708" rx="17.5" ry="21.5"/><text x="708" y="7">→</text></g>
<g id="k15-14" class="D"><ellipse cx="760" rx="17.5" ry="21.5"/><text x="760" y="7">→</text></g>
<g id="k15-15" class="D"><ellipse cx="812" rx="17.5" ry="21.5"/><text x="812" y="7">→</text></g>
<g id="k15-16" class="D"><ellipse cx="864" rx="17.5" ry="21.5"/><text x="864" y="7">→</text></g>
<g id="k15-17" class="D"><ellipse cx="916" rx="17.5" ry="21.5"/><text x="916" y="7">→</text></g>
<g id="k15-18" class="W"><ellipse cx="968" rx="17.5" ry="21.5"/><text x="968" y="7">→</text></g>
<g id="k15-19" class="D"><ellipse cx="1020" rx="17.5" ry="21.5"/><text x="1020" y="7">→</text></g>
</g>
<g id="r16" transform="translate(0,842)">
<g id="k16-1" class="D"><ellipse cx="84" rx="17.5" ry="21.5"/><text x="84" y="7">←</text></g>
<g id="k16-2" class="W"><ellipse cx="136" rx="17.5" ry="21.5"/><text x="136" y="7">←</text></g>
<g id="k16-3" class="W"><ellipse cx="188" rx="17.5" ry="21.5"/><text x="188" y="7">←</text></g>
<g id="k16-4" class="W"><ellipse cx="240" rx="17.5" ry="21.5"/><text x="240" y="7">←</text></g>
<g id="k16-5" class="W"><ellipse cx="292" rx="17.5" ry="21.5"/><text x="292" y="7">←</text></g>
<g id="k16-6" class="W"><ellipse cx="344" rx="17.5" ry="21.5"/><text x="344" y="7">←</text></g>
<g id="k16-7" class="W"><ellipse cx="396" rx="17.5" ry="21.5"/><text x="396" y="7">←</text></g>
<g id="k16-8" class="W"><ellipse cx="448" rx="17.5" ry="21.5"/><text x="448" y="7">←</text></g>
<g id="k16-9" class="W"><ellipse cx="500" rx="17.5" ry="21.5"/><text x="500" y="7">←</text></g>
<g id="k16-10" class="W"><ellipse cx="552" rx="17.5" ry="21.5"/><text x="552" y="7">←</text></g>
<g id="k16-11" class="W"><ellipse cx="604" rx="17.5" ry="21.5"/><text x="604" y="7">←</text></g>
<g id="k16-12" class="W"><ellipse cx="656" rx="17.5" ry="21.5"/><text x="656" y="7">←</text></g>
<g id="k16-13" class="W"><ellipse cx="708" rx="17.5" ry="21.5"/><text x="708" y="7">←</text></g>
<g id="k16-14" class="W"><ellipse cx="760" rx="17.5" ry="21.5"/><text x="760" y="7">←</text></g>
<g id="k16-15" class="W"><ellipse cx="812" rx="17.5" ry="21.5"/><text x="812" y="7">←</text></g>
<g id="k16-16" class="W"><ellipse cx="864" rx="17.5" ry="21.5"/><text x="864" y="7">←</text></g>
<g id="k16-17" class="W"><ellipse cx="916" rx="17.5" ry="21.5"/><text x="916" y="7">←</text></g>
<g id="k16-18" class="W"><ellipse cx="968" rx="17.5" ry="21.5"/><text x="968" y="7">←</text></g>
<g id="k16-19" class="D"><ellipse cx="1020" rx="17.5" ry="21.5"/><text x="1020" y="7">←</text></g>
</g>
<g id="r17" transform="translate(0,894)">
<g id="k17-1" class="D"><ellipse cx="84" rx="17.5" ry="21.5"/><text x="84" y="7">→</text></g>
<g id="k17-2" class="W"><ellipse cx="136" rx="17.5" ry="21.5"/><text x="136" y="7">→</text></g>
<g id="k17-3" class="W"><ellipse cx="188" rx="17.5" ry="21.5"/><text x="188" y="7">→</text></g>
<g id="k17-4" class="W"><ellipse cx="240" rx="17.5" ry="21.5"/><text x="240" y="7">→</text></g>
<g id="k17-5" class="W"><ellipse cx="292" rx="17.5" ry="21.5"/><text x="292" y="7">→</text></g>
<g id="k17-6" class="W"><ellipse cx="344" rx="17.5" ry="21.5"/><text x="344" y="7">→</text></g>
<g id="k17-7" class="W"><ellipse cx="396" rx="17.5" ry="21.5"/><text x="396" y="7">→</text></g>
<g id="k17-8" class="W"><ellipse cx="448" rx="17.5" ry="21.5"/><text x="448" y="7">→</text></g>
<g id="k17-9" class="W"><ellipse cx="500" rx="17.5" ry="21.5"/><text x="500" y="7">→</text></g>
<g id="k17-10" class="W"><ellipse cx="552" rx="17.5" ry="21.5"/><text x="552" y="7">→</text></g>
<g id="k17-11" class="W"><ellipse cx="604" rx="17.5" ry="21.5"/><text x="604" y="7">→</text></g>
<g id="k17-12" class="W"><ellipse cx="656" rx="17.5" ry="21.5"/><text x="656" y="7">→</text></g>
<g id="k17-13" class="W"><ellipse cx="708" rx="17.5" ry="21.5"/><text x="708" y="7">→</text></g>
<g id="k17-14" class="W"><ellipse cx="760" rx="17.5" ry="21.5"/><text x="760" y="7">→</text></g>
<g id="k17-15" class="W"><ellipse cx="812" rx="17.5" ry="21.5"/><text x="812" y="7">→</text></g>
<g id="k17-16" class="W"><ellipse cx="864" rx="17.5" ry="21.5"/><text x="864" y="7">→</text></g>
<g id="k17-17" class="W"><ellipse cx="916" rx="17.5" ry="21.5"/><text x="916" y="7">→</text></g>
<g id="k17-18" class="W"><ellipse cx="968" rx="17.5" ry="21.5"/><text x="968" y="7">→</text></g>
<g id="k17-19" class="D"><ellipse cx="1020" rx="17.5" ry="21.5"/><text x="1020" y="7">→</text></g>
</g>
<g id="r18" transform="translate(0,946)">
<g id="k18-1" class="D"><ellipse cx="84" rx="17.5" ry="21.5"/><text x="84" y="7">←</text></g>
<g id="k18-2" class="W"><ellipse cx="136" rx="17.5" ry="21.5"/><text x="136" y="7">←</text></g>
<g id="k18-3" class="W"><ellipse cx="188" rx="17.5" ry="21.5"/><text x="188" y="7">←</text></g>
<g id="k18-4" class="W"><ellipse cx="240" rx="17.5" ry="21.5"/><text x="240" y="7">←</text></g>
<g id="k18-5" class="W"><ellipse cx="292" rx="17.5" ry="21.5"/><text x="292" y="7">←</text></g>
<g id="k18-6" class="W"><ellipse cx="344" rx="17.5" ry="21.5"/><text x="344" y="7">←</text></g>
<g id="k18-7" class="W"><ellipse cx="396" rx="17.5" ry="21.5"/><text x="396" y="7">←</text></g>
<g id="k18-8" class="W"><ellipse cx="448" rx="17.5" ry="21.5"/><text x="448" y="7">←</text></g>
<g id="k18-9" class="W"><ellipse cx="500" rx="17.5" ry="21.5"/><text x="500" y="7">←</text></g>
<g id="k18-10" class="W"><ellipse cx="552" rx="17.5" ry="21.5"/><text x="552" y="7">←</text></g>
<g id="k18-11" class="W"><ellipse cx="604" rx="17.5" ry="21.5"/><text x="604" y="7">←</text></g>
<g id="k18-12" class="W"><ellipse cx="656" rx="17.5" ry="21.5"/><text x="656" y="7">←</text></g>
<g id="k18-13" class="W"><ellipse cx="708" rx="17.5" ry="21.5"/><text x="708" y="7">←</text></g>
<g id="k18-14" class="W"><ellipse cx="760" rx="17.5" ry="21.5"/><text x="760" y="7">←</text></g>
<g id="k18-15" class="W"><ellipse cx="812" rx="17.5" ry="21.5"/><text x="812" y="7">←</text></g>
<g id="k18-16" class="W"><ellipse cx="864" rx="17.5" ry="21.5"/><text x="864" y="7">←</text></g>
<g id="k18-17" class="W"><ellipse cx="916" rx="17.5" ry="21.5"/><text x="916" y="7">←</text></g>
<g id="k18-18" class="W"><ellipse cx="968" rx="17.5" ry="21.5"/><text x="968" y="7">←</text></g>
<g id="k18-19" class="D"><ellipse cx="1020" rx="17.5" ry="21.5"/><text x="1020" y="7">←</text></g>
</g>
<g id="r19" transform="translate(0,998)">
<g id="k19-1" class="D"><ellipse cx="84" rx="17.5" ry="21.5"/><text x="84" y="7">→</text></g>
<g id="k19-2" class="W"><ellipse cx="136" rx="17.5" ry="21.5"/><text x="136" y="7">→</text></g>
<g id="k19-3" class="W"><ellipse cx="188" rx="17.5" ry="21.5"/><text x="188" y="7">→</text></g>
<g id="k19-4" class="W"><ellipse cx="240" rx="17.5" ry="21.5"/><text x="240" y="7">→</text></g>
<g id="k19-5" class="W"><ellipse cx="292" rx="17.5" ry="21.5"/><text x="292" y="7">→</text></g>
<g id="k19-6" class="W"><ellipse cx="344" rx="17.5" ry="21.5"/><text x="344" y="7">→</text></g>
<g id="k19-7" class="W"><ellipse cx="396" rx="17.5" ry="21.5"/><text x="396" y="7">→</text></g>
<g id="k19-8" class="W"><ellipse cx="448" rx="17.5" ry="21.5"/><text x="448" y="7">→</text></g>
<g id="k19-9" class="W"><ellipse cx="500" rx="17.5" ry="21.5"/><text x="500" y="7">→</text></g>
<g id="k19-10" class="W"><ellipse cx="552" rx="17.5" ry="21.5"/><text x="552" y="7">→</text></g>
<g id="k19-11" class="W"><ellipse cx="604" rx="17.5" ry="21.5"/><text x="604" y="7">→</text></g>
<g id="k19-12" class="W"><ellipse cx="656" rx="17.5" ry="21.5"/><text x="656" y="7">→</text></g>
<g id="k19-13" class="W"><ellipse cx="708" rx="17.5" ry="21.5"/><text x="708" y="7">→</text></g>
<g id="k19-14" class="W"><ellipse cx="760" rx="17.5" ry="21.5"/><text x="760" y="7">→</text></g>
<g id="k19-15" class="W"><ellipse cx="812" rx="17.5" ry="21.5"/><text x="812" y="7">→</text></g>
<g id="k19-16" class="W"><ellipse cx="864" rx="17.5" ry="21.5"/><text x="864" y="7">→</text></g>
<g id="k19-17" class="W"><ellipse cx="916" rx="17.5" ry="21.5"/><text x="916" y="7">→</text></g>
<g id="k19-18" class="W"><ellipse cx="968" rx="17.5" ry="21.5"/><text x="968" y="7">→</text></g>
<g id="k19-19" class="D"><ellipse cx="1020" rx="17.5" ry="21.5"/><text x="1020" y="7">→</text></g>
</g>
<g id="r20" transform="translate(0,1050)">
<g id="k20-1" class="D"><ellipse cx="84" rx="17.5" ry="21.5"/><text x="84" y="7">←</text></g>
<g id="k20-2" class="W"><ellipse cx="136" rx="17.5" ry="21.5"/><text x="136" y="7">←</text></g>
<g id="k20-3" class="W"><ellipse cx="188" rx="17.5" ry="21.5"/><text x="188" y="7">←</text></g>
<g id="k20-4" class="W"><ellipse cx="240" rx="17.5" ry="21.5"/><text x="240" y="7">←</text></g>
<g id="k20-5" class="W"><ellipse cx="292" rx="17.5" ry="21.5"/><text x="292" y="7">←</text></g>
<g id="k20-6" class="W"><ellipse cx="344" rx="17.5" ry="21.5"/><text x="344" y="7">←</text></g>
<g id="k20-7" class="W"><ellipse cx="396" rx="17.5" ry="21.5"/><text x="396" y="7">←</text></g>
<g id="k20-8" class="W"><ellipse cx="448" rx="17.5" ry="21.5"/><text x="448" y="7">←</text></g>
<g id="k20-9" class="W"><ellipse cx="500" rx="17.5" ry="21.5"/><text x="500" y="7">←</text></g>
<g id="k20-10" class="W"><ellipse cx="552" rx="17.5" ry="21.5"/><text x="552" y="7">←</text></g>
<g id="k20-11" class="W"><ellipse cx="604" rx="17.5" ry="21.5"/><text x="604" y="7">←</text></g>
<g id="k20-12" class="W"><ellipse cx="656" rx="17.5" ry="21.5"/><text x="656" y="7">←</text></g>
<g id="k20-13" class="W"><ellipse cx="708" rx="17.5" ry="21.5"/><text x="708" y="7">←</text></g>
<g id="k20-14" class="W"><ellipse cx="760" rx="17.5" ry="21.5"/><text x="760" y="7">←</text></g>
<g id="k20-15" class="W"><ellipse cx="812" rx="17.5" ry="21.5"/><text x="812" y="7">←</text></g>
<g id="k20-16" class="W"><ellipse cx="864" rx="17.5" ry="21.5"/><text x="864" y="7">←</text></g>
<g id="k20-17" class="W"><ellipse cx="916" rx="17.5" ry="21.5"/><text x="916" y="7">←</text></g>
<g id="k20-18" class="W"><ellipse cx="968" rx="17.5" ry="21.5"/><text x="968" y="7">←</text></g>
<g id="k20-19" class="D"><ellipse cx="1020" rx="17.5" ry="21.5"/><text x="1020" y="7">←</text></g>
</g>
<g id="r21" transform="translate(0,1102)">
<g id="k21-1" class="D"><ellipse cx="84" rx="17.5" ry="21.5"/><text x="84" y="7">→</text></g>
<g id="k21-2" class="W"><ellipse cx="136" rx="17.5" ry="21.5"/><text x="136" y="7">→</text></g>
<g id="k21-3" class="W"><ellipse cx="188" rx="17.5" ry="21.5"/><text x="188" y="7">→</text></g>
<g id="k21-4" class="W"><ellipse cx="240" rx="17.5" ry="21.5"/><text x="240" y="7">→</text></g>
<g id="k21-5" class="W"><ellipse cx="292" rx="17.5" ry="21.5"/><text x="292" y="7">→</text></g>
<g id="k21-6" class="W"><ellipse cx="344" rx="17.5" ry="21.5"/><text x="344" y="7">→</text></g>
<g id="k21-7" class="W"><ellipse cx="396" rx="17.5" ry="21.5"/><text x="396" y="7">→</text></g>
<g id="k21-8" class="W"><ellipse cx="448" rx="17.5" ry="21.5"/><text x="448" y="7">→</text></g>
<g id="k21-9" class="W"><ellipse cx="500" rx="17.5" ry="21.5"/><text x="500" y="7">→</text></g>
<g id="k21-10" class="W"><ellipse cx="552" rx="17.5" ry="21.5"/><text x="552" y="7">→</text></g>
<g id="k21-11" class="W"><ellipse cx="604" rx="17.5" ry="21.5"/><text x="604" y="7">→</text></g>
<g id="k21-12" class="W"><ellipse cx="656" rx="17.5" ry="21.5"/><text x="656" y="7">→</text></g>
<g id="k21-13" class="W"><ellipse cx="708" rx="17.5" ry="21.5"/><text x="708" y="7">→</text></g>
<g id="k21-14" class="W"><ellipse cx="760" rx="17.5" ry="21.5"/><text x="760" y="7">→</text></g>
<g id="k21-15" class="W"><ellipse cx="812" rx="17.5" ry="21.5"/><text x="812" y="7">→</text></g>
<g id="k21-16" class="W"><ellipse cx="864" rx="17.5" ry="21.5"/><text x="864" y="7">→</text></g>
<g id="k21-17" class="W"><ellipse cx="916" rx="17.5" ry="21.5"/><text x="916" y="7">→</text></g>
<g id="k21-18" class="W"><ellipse cx="968" rx="17.5" ry="21.5"/><text x="968" y="7">→</text></g>
<g id="k21-19" class="D"><ellipse cx="1020" rx="17.5" ry="21.5"/><text x="1020" y="7">→</text></g>
</g>
<g id="r22" transform="translate(0,1154)">
<g id="k22-1" class="D"><ellipse cx="84" rx="17.5" ry="21.5"/><text x="84" y="7">←</text></g>
<g id="k22-2" class="D"><ellipse cx="136" rx="17.5" ry="21.5"/><text x="136" y="7">←</text></g>
<g id="k22-3" class="D"><ellipse cx="188" rx="17.5" ry="21.5"/><text x="188" y="7">←</text></g>
<g id="k22-4" class="D"><ellipse cx="240" rx="17.5" ry="21.5"/><text x="240" y="7">←</text></g>
<g id="k22-5" class="D"><ellipse cx="292" rx="17.5" ry="21.5"/><text x="292" y="7">←</text></g>
<g id="k22-6" class="D"><ellipse cx="344" rx="17.5" ry="21.5"/><text x="344" y="7">←</text></g>
<g id="k22-7" class="D"><ellipse cx="396" rx="17.5" ry="21.5"/><text x="396" y="7">←</text></g>
<g id="k22-8" class="D"><ellipse cx="448" rx="17.5" ry="21.5"/><text x="448" y="7">←</text></g>
<g id="k22-9" class="D"><ellipse cx="500" rx="17.5" ry="21.5"/><text x="500" y="7">←</text></g>
<g id="k22-10" class="D"><ellipse cx="552" rx="17.5" ry="21.5"/><text x="552" y="7">←</text></g>
<g id="k22-11" class="D"><ellipse cx="604" rx="17.5" ry="21.5"/><text x="604" y="7">←</text></g>
<g id="k22-12" class="D"><ellipse cx="656" rx="17.5" ry="21.5"/><text x="656" y="7">←</text></g>
<g id="k22-13" class="D"><ellipse cx="708" rx="17.5" ry="21.5"/><text x="708" y="7">←</text></g>
<g id="k22-14" class="D"><ellipse cx="760" rx="17.5" ry="21.5"/><text x="760" y="7">←</text></g>
<g id="k22-15" class="D"><ellipse cx="812" rx="17.5" ry="21.5"/><text x="812" y="7">←</text></g>
<g id="k22-16" class="D"><ellipse cx="864" rx="17.5" ry="21.5"/><text x="864" y="7">←</text></g>
<g id="k22-17" class="D"><ellipse cx="916" rx="17.5" ry="21.5"/><text x="916" y="7">←</text></g>
<g id="k22-18" class="D"><ellipse cx="968" rx="17.5" ry="21.5"/><text x="968" y="7">←</text></g>
<g id="k22-19" class="D"><ellipse cx="1020" rx="17.5" ry="21.5"/><text x="1020" y="7">←</text></g>
</g>
</g>
<text id="watermark" class="wm" x="552.5" y="613" textLength="153" lengthAdjust="spacingAndGlyphs">BRACELETBOOK.COM</text>
</svg>
